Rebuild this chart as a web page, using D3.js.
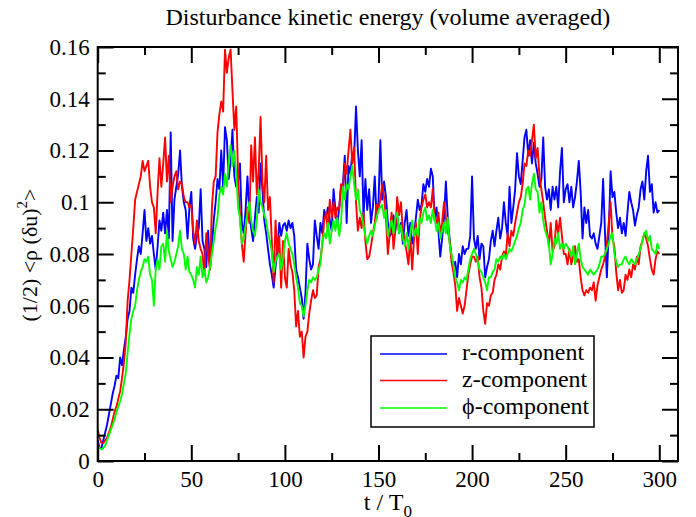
<!DOCTYPE html>
<html><head><meta charset="utf-8">
<script src="https://cdn.jsdelivr.net/npm/d3@7"></script>
<style>body{margin:0;background:#fff}svg{display:block}text{font-family:"Liberation Serif","Times New Roman",serif}</style>
</head><body><svg id="c" width="696" height="517"></svg>
<script>
const title = "Disturbance kinetic energy (volume averaged)";
const seriesNames = ["r-component", "z-component", "\u03D5-component"];
const seriesColors = ["#0000ff", "#ff0000", "#00ff00"];
const xTicks = [0, 50, 100, 150, 200, 250, 300];
const xMinorTicks = [25, 75, 125, 175, 225, 275];
const yTicks = [0, 0.02, 0.04, 0.06, 0.08, 0.1, 0.12, 0.14, 0.16];
const yTickLabels = ["0", "0.02", "0.04", "0.06", "0.08", "0.1", "0.12", "0.14", "0.16"];
const yMinorTicks = [0.01, 0.03, 0.05, 0.07, 0.09, 0.11, 0.13, 0.15];
const tStep = 1; // time between samples (t / T0)

const rComp = [
.008,.005,.005,.008,.011,.014,.018,.022,.026,.029,
.033,.032,.040,.037,.043,.048,.055,.058,.067,.065,
.072,.078,.083,.080,.088,.097,.085,.090,.084,.087,
.080,.074,.083,.093,.089,.096,.088,.097,.086,.127,
.085,.101,.106,.111,.120,.106,.100,.097,.086,.098,
.104,.086,.082,.087,.090,.105,.085,.082,.075,.089,
.074,.083,.093,.100,.109,.105,.120,.106,.129,.124,
.109,.116,.128,.110,.106,.108,.115,.092,.088,.097,
.110,.096,.090,.085,.094,.102,.096,.115,.105,.093,
.088,.082,.076,.072,.067,.075,.082,.092,.087,.091,
.092,.089,.093,.090,.092,.087,.074,.071,.067,.063,
.055,.065,.084,.078,.074,.076,.093,.087,.082,.092,
.088,.097,.094,.098,.093,.089,.105,.097,.091,.098,
.106,.107,.118,.092,.114,.111,.119,.118,.137,.120,
.110,.124,.094,.109,.097,.105,.092,.098,.110,.094,
.100,.124,.101,.108,.102,.092,.087,.088,.095,.089,
.095,.088,.092,.084,.092,.097,.087,.092,.084,.087,
.094,.101,.097,.099,.107,.104,.109,.106,.113,.110,
.093,.098,.089,.079,.086,.094,.108,.094,.086,.079,
.075,.077,.071,.080,.076,.083,.080,.082,.082,.087,
.110,.086,.082,.087,.078,.084,.083,.071,.075,.078,
.085,.089,.083,.089,.094,.086,.090,.100,.092,.087,
.106,.092,.098,.105,.119,.110,.107,.116,.125,.128,
.118,.124,.115,.123,.115,.111,.106,.109,.125,.106,
.101,.105,.097,.106,.101,.106,.098,.112,.121,.100,
.105,.107,.100,.106,.098,.102,.108,.116,.104,.086,
.098,.092,.097,.087,.086,.088,.084,.082,.087,.092,
.109,.088,.071,.089,.112,.102,.104,.096,.090,.094,
.088,.092,.087,.096,.104,.100,.097,.091,.095,.098,
.105,.108,.101,.112,.118,.104,.107,.096,.100,.096,
.097];

const zComp = [
.012,.009,.007,.007,.008,.009,.011,.013,.016,.019,
.021,.024,.027,.032,.038,.046,.062,.070,.080,.090,
.101,.104,.107,.110,.116,.112,.114,.116,.106,.100,
.098,.088,.104,.117,.106,.115,.125,.108,.118,.100,
.106,.110,.112,.105,.108,.107,.102,.100,.100,.098,
.099,.089,.084,.093,.085,.082,.080,.072,.088,.080,
.074,.098,.108,.110,.127,.134,.139,.135,.159,.150,
.156,.159,.143,.128,.137,.110,.095,.084,.077,.088,
.098,.092,.122,.108,.125,.103,.112,.133,.108,.100,
.118,.097,.102,.085,.069,.093,.079,.087,.067,.085,
.071,.067,.082,.076,.073,.066,.052,.058,.048,.050,
.040,.048,.050,.057,.062,.066,.063,.064,.075,.078,
.084,.093,.096,.089,.101,.094,.100,.094,.098,.097,
.107,.105,.115,.111,.120,.128,.115,.121,.100,.089,
.094,.090,.096,.085,.078,.079,.083,.088,.092,.099,
.098,.101,.107,.102,.094,.080,.088,.096,.082,.089,
.102,.095,.100,.089,.085,.081,.076,.087,.074,.086,
.092,.080,.093,.098,.101,.103,.098,.100,.098,.105,
.094,.092,.096,.088,.092,.100,.094,.089,.085,.077,
.073,.068,.058,.063,.060,.057,.060,.066,.072,.076,
.079,.079,.077,.079,.071,.067,.058,.053,.061,.060,
.064,.065,.070,.072,.076,.074,.079,.081,.079,.088,
.083,.089,.087,.092,.096,.100,.102,.107,.115,.114,
.120,.118,.124,.130,.117,.121,.110,.105,.100,.094,
.089,.083,.092,.081,.083,.093,.088,.094,.087,.080,
.080,.076,.082,.076,.079,.083,.077,.078,.071,.066,
.064,.066,.065,.067,.066,.069,.062,.068,.071,.074,
.076,.079,.084,.092,.100,.086,.083,.073,.066,.070,
.065,.066,.072,.070,.074,.071,.076,.074,.079,.076,
.083,.085,.088,.086,.083,.078,.074,.072,.078,.081,
.080];

const phiComp = [
.006,.005,.0045,.005,.006,.008,.010,.012,.014,.016,
.019,.021,.023,.026,.030,.034,.042,.049,.055,.058,
.060,.066,.070,.073,.075,.078,.077,.079,.072,.070,
.060,.074,.078,.074,.083,.084,.077,.089,.081,.078,
.075,.077,.080,.083,.089,.082,.080,.074,.079,.073,
.072,.070,.067,.075,.072,.079,.071,.074,.069,.071,
.075,.080,.085,.090,.094,.103,.106,.103,.111,.106,
.116,.122,.114,.120,.111,.098,.094,.084,.086,.091,
.096,.100,.093,.089,.087,.093,.105,.100,.098,.095,
.093,.088,.085,.081,.073,.077,.079,.080,.074,.078,
.085,.088,.084,.082,.080,.076,.071,.067,.061,.060,
.056,.060,.066,.070,.069,.071,.070,.071,.074,.076,
.085,.088,.086,.092,.084,.089,.093,.089,.094,.087,
.092,.106,.101,.107,.105,.110,.114,.107,.101,.105,
.097,.095,.091,.087,.084,.087,.089,.087,.091,.094,
.097,.098,.099,.094,.097,.087,.090,.093,.088,.094,
.096,.088,.091,.086,.083,.088,.082,.088,.093,.087,
.090,.087,.094,.092,.096,.098,.093,.095,.092,.097,
.094,.089,.092,.086,.089,.092,.088,.094,.084,.080,
.076,.071,.069,.066,.070,.069,.071,.070,.074,.078,
.080,.082,.080,.077,.074,.073,.071,.069,.066,.071,
.071,.073,.074,.078,.077,.079,.078,.080,.078,.080,
.082,.081,.083,.085,.087,.090,.092,.097,.099,.105,
.106,.101,.107,.111,.105,.104,.096,.100,.093,.089,
.087,.084,.076,.080,.086,.084,.088,.082,.084,.082,
.084,.083,.081,.079,.083,.076,.080,.084,.078,.075,
.074,.073,.072,.074,.073,.072,.073,.074,.076,.079,
.079,.080,.082,.084,.087,.088,.080,.077,.075,.076,
.076,.078,.079,.077,.076,.078,.077,.076,.078,.080,
.082,.085,.088,.089,.085,.087,.082,.081,.080,.084,
.082];

const series = [rComp, zComp, phiComp];

const FONT = "Liberation Serif, Times New Roman, serif";
const svg = d3.select("#c");
const L = 97.7, R = 678, T = 47, B = 461;
const x = d3.scaleLinear().domain([0, 310]).range([L, R]);
const y = d3.scaleLinear().domain([0, 0.16]).range([B, T]);

svg.append("rect").attr("width", 696).attr("height", 517).attr("fill", "#fff");

svg.append("defs").append("clipPath").attr("id", "clip")
  .append("rect").attr("x", L).attr("y", T).attr("width", R - L).attr("height", B - T);

const line = d3.line().x((d, i) => x(i * tStep)).y(d => y(d));
const g = svg.append("g").attr("clip-path", "url(#clip)");
series.forEach((s, k) => {
  g.append("path").datum(s).attr("d", line)
    .attr("fill", "none").attr("stroke", seriesColors[k])
    .attr("stroke-width", 1.9).attr("stroke-linejoin", "round");
});

function styleAxis(sel) {
  sel.attr("font-family", null);
  sel.select(".domain").remove();
  sel.selectAll(".tick line").attr("stroke", "#000").attr("stroke-width", 2);
  sel.selectAll(".tick text").attr("fill", "#000").style("font-family", FONT).style("font-size", "23px");
}
// bottom
svg.append("g").attr("transform", `translate(0,${B})`)
  .call(d3.axisBottom(x).tickValues(xTicks).tickSize(-16).tickPadding(10).tickFormat(d3.format("d")))
  .call(styleAxis);
svg.append("g").attr("transform", `translate(0,${B})`)
  .call(d3.axisBottom(x).tickValues(xMinorTicks).tickSize(-8).tickFormat(""))
  .call(styleAxis);
// top
svg.append("g").attr("transform", `translate(0,${T})`)
  .call(d3.axisTop(x).tickValues(xTicks).tickSize(-16).tickFormat(""))
  .call(styleAxis);
svg.append("g").attr("transform", `translate(0,${T})`)
  .call(d3.axisTop(x).tickValues(xMinorTicks).tickSize(-8).tickFormat(""))
  .call(styleAxis);
// left
svg.append("g").attr("transform", `translate(${L},0)`)
  .call(d3.axisLeft(y).tickValues(yTicks).tickSize(-16).tickPadding(8).tickFormat((d, i) => yTickLabels[i]))
  .call(styleAxis);
svg.append("g").attr("transform", `translate(${L},0)`)
  .call(d3.axisLeft(y).tickValues(yMinorTicks).tickSize(-8).tickFormat(""))
  .call(styleAxis);
// right
svg.append("g").attr("transform", `translate(${R},0)`)
  .call(d3.axisRight(y).tickValues(yTicks).tickSize(-16).tickFormat(""))
  .call(styleAxis);
svg.append("g").attr("transform", `translate(${R},0)`)
  .call(d3.axisRight(y).tickValues(yMinorTicks).tickSize(-8).tickFormat(""))
  .call(styleAxis);

// frame
svg.append("rect").attr("x", L).attr("y", T).attr("width", R - L).attr("height", B - T)
  .attr("fill", "none").attr("stroke", "#000").attr("stroke-width", 2);

// title
svg.append("text").attr("x", (L + R) / 2).attr("y", 25).attr("text-anchor", "middle")
  .style("font-family", FONT).style("font-size", "24px").attr("fill", "#000").text(title);

// x label
const xl = svg.append("text").attr("x", (L + R) / 2).attr("y", 510).attr("text-anchor", "middle")
  .style("font-family", FONT).style("font-size", "24px").attr("fill", "#000");
xl.append("tspan").text("t / T");
xl.append("tspan").attr("dy", 7).style("font-size", "17px").text("0");

// y label
const yl = svg.append("text").attr("transform", "translate(37,255) rotate(-90)")
  .attr("text-anchor", "middle").style("font-family", FONT).style("font-size", "22px").attr("fill", "#000");
yl.append("tspan").text("(1/2) <\u03C1 (\u03B4u)");
yl.append("tspan").attr("dy", -10).style("font-size", "15px").text("2");
yl.append("tspan").attr("dy", 10).text(">");

// legend
const lg = svg.append("g");
lg.append("rect").attr("x", 371).attr("y", 336).attr("width", 223).attr("height", 91)
  .attr("fill", "#fff").attr("stroke", "#000").attr("stroke-width", 1.5);
const ly = [354, 380.5, 408];
seriesNames.forEach((n, k) => {
  lg.append("line").attr("x1", 380).attr("x2", 447).attr("y1", ly[k]).attr("y2", ly[k])
    .attr("stroke", seriesColors[k]).attr("stroke-width", 1.6);
  lg.append("text").attr("x", 462).attr("y", ly[k] + 6).style("font-family", FONT)
    .style("font-size", "24px").attr("fill", "#000").text(n);
});
</script></body></html>
